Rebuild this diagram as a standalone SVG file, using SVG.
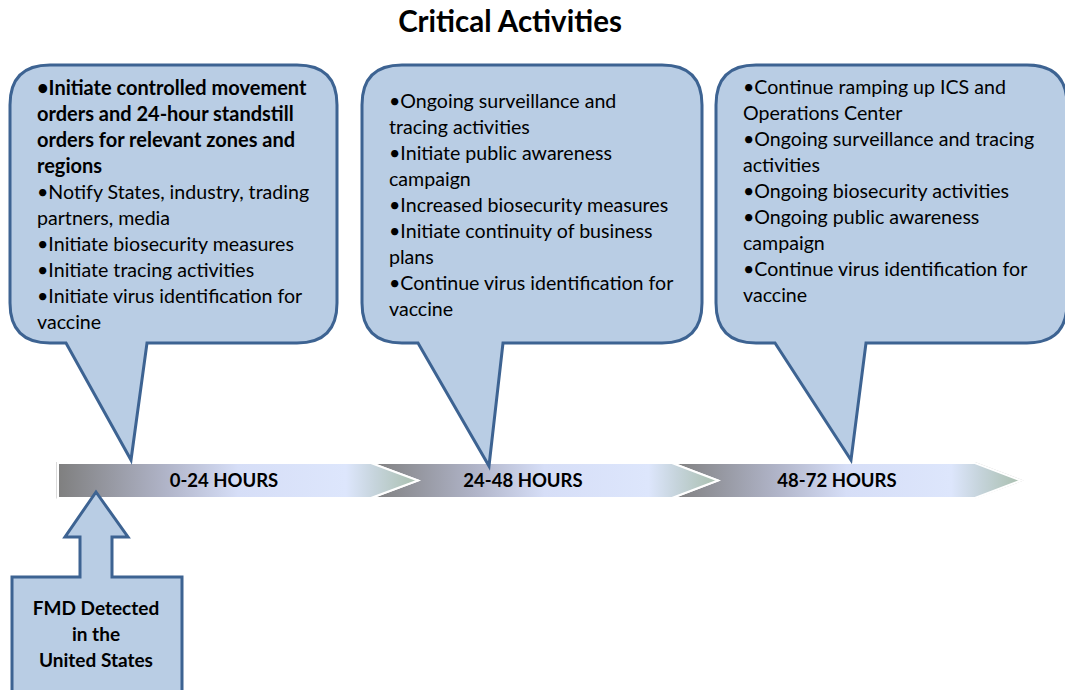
<svg xmlns="http://www.w3.org/2000/svg" width="1065" height="690" viewBox="0 0 1065 690">
<defs>
<style>
.callout{fill:#b9cde4;stroke:#3d6392;stroke-width:3;stroke-linejoin:miter}
.t{font-family:Lato,"Open Sans","Liberation Sans",sans-serif;font-size:19.6px;fill:#000}
.b{font-weight:bold;font-size:20px}
.lbl{font-family:Lato,"Open Sans","Liberation Sans",sans-serif;font-size:18.5px;font-weight:bold;text-anchor:middle;fill:#000}
.fl{font-family:Lato,"Open Sans","Liberation Sans",sans-serif;font-size:19px;font-weight:bold;text-anchor:middle;fill:#000}
.seg{fill:url(#g);stroke:#ffffff;stroke-width:2}
</style>
<linearGradient id="g" x1="0" y1="0" x2="1" y2="0">
<stop offset="0" stop-color="#7f7f7f"/>
<stop offset="0.3" stop-color="#b0b4c8"/>
<stop offset="0.5" stop-color="#d6def7"/>
<stop offset="0.8" stop-color="#dde6fc"/>
<stop offset="0.88" stop-color="#c6d4dc"/>
<stop offset="1" stop-color="#a9bfae"/>
</linearGradient>
</defs>
<rect width="1065" height="690" fill="#ffffff"/>
<text x="510" y="32" font-family="Lato,'Open Sans','Liberation Sans',sans-serif" font-size="29.5" font-weight="bold" text-anchor="middle">Critical Activities</text>

<g id="connectors">
<path d="M57,462.5 H975 L1022,480.5 L975,498 H57 Z" fill="none" stroke="#c4c4c4" stroke-width="1.2"/>
<polygon class="seg" points="672,463 975,463 1021,480.5 975,498 672,498 718,480.5"/>
<polygon class="seg" points="371,463 672,463 718,480.5 672,498 371,498 418,480.5"/>
<polygon class="seg" points="58,463 371,463 418,480.5 371,498 58,498"/>
</g>

<g id="t1"><text class="lbl" x="224" y="487">0-24 HOURS</text></g>
<g id="t2"><text class="lbl" x="523" y="487">24-48 HOURS</text></g>
<g id="t3"><text class="lbl" x="837" y="487">48-72 HOURS</text></g>

<g id="callout1">
<path class="callout" d="M50,65 H297 Q337,65 337,105 V303 Q337,343 297,343 H147 L131,460 L66,343 H50 Q10,343 10,303 V105 Q10,65 50,65 Z"/>
<text class="t b" x="37" y="95">•Initiate controlled movement</text>
<text class="t b" x="37" y="121">orders and 24-hour standstill</text>
<text class="t b" x="37" y="147">orders for relevant zones and</text>
<text class="t b" x="37" y="173">regions</text>
<text class="t" x="37" y="199">•Notify States, industry, trading</text>
<text class="t" x="37" y="225">partners, media</text>
<text class="t" x="37" y="251">•Initiate biosecurity measures</text>
<text class="t" x="37" y="277">•Initiate tracing activities</text>
<text class="t" x="37" y="303">•Initiate virus identification for</text>
<text class="t" x="37" y="329">vaccine</text>
</g>

<g id="callout2">
<path class="callout" d="M402,65 H662 Q702,65 702,105 V303 Q702,343 662,343 H503 L489,466 L418,343 H402 Q362,343 362,303 V105 Q362,65 402,65 Z"/>
<text class="t" x="389" y="108">•Ongoing surveillance and</text>
<text class="t" x="389" y="134">tracing activities</text>
<text class="t" x="389" y="160">•Initiate public awareness</text>
<text class="t" x="389" y="186">campaign</text>
<text class="t" x="389" y="212">•Increased biosecurity measures</text>
<text class="t" x="389" y="238">•Initiate continuity of business</text>
<text class="t" x="389" y="264">plans</text>
<text class="t" x="389" y="290">•Continue virus identification for</text>
<text class="t" x="389" y="316">vaccine</text>
</g>

<g id="callout3">
<path class="callout" d="M756,65 H1027 Q1067,65 1067,105 V303 Q1067,343 1027,343 H866 L851,460 L775,343 H756 Q716,343 716,303 V105 Q716,65 756,65 Z"/>
<text class="t" x="743" y="94">•Continue ramping up ICS and</text>
<text class="t" x="743" y="120">Operations Center</text>
<text class="t" x="743" y="146">•Ongoing surveillance and tracing</text>
<text class="t" x="743" y="172">activities</text>
<text class="t" x="743" y="198">•Ongoing biosecurity activities</text>
<text class="t" x="743" y="224">•Ongoing public awareness</text>
<text class="t" x="743" y="250">campaign</text>
<text class="t" x="743" y="276">•Continue virus identification for</text>
<text class="t" x="743" y="302">vaccine</text>
</g>

<g id="fmd">
<path class="callout" d="M96,492 L128,537 H112 V577 H182 V700 H12 V577 H80 V537 H65 Z"/>
<text class="fl" x="96" y="615">FMD Detected</text>
<text class="fl" x="96" y="641">in the</text>
<text class="fl" x="96" y="667">United States</text>
</g>
</svg>
